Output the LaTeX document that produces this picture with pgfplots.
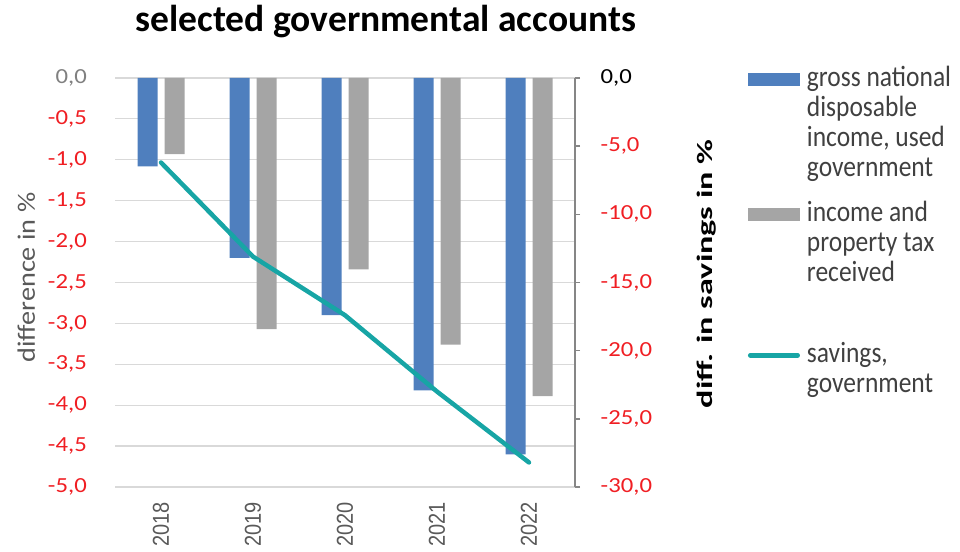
\documentclass[border=0pt]{standalone}
\usepackage{pgfplots}
\pgfplotsset{compat=1.18}
\usepackage{fontspec}
\setmainfont{Carlito}
\newfontfamily\arialf{Liberation Sans}
\definecolor{barblue}{HTML}{4F7FBE}
\definecolor{bargray}{HTML}{A5A5A5}
\definecolor{lineteal}{HTML}{17A5A5}
\definecolor{tickred}{HTML}{F01E23}
\definecolor{gridgray}{HTML}{D9D9D9}
\definecolor{labgray}{HTML}{595959}
\definecolor{leggray}{HTML}{404040}
\definecolor{axgray}{HTML}{868686}
\newcommand{\tl}[2]{\textcolor{#1}{\scalebox{1.15}[1]{#2}}}
\newcommand{\yl}[1]{\scalebox{1}[1.15]{#1}}
\newcommand{\legtext}[2]{\scalebox{1}[1.15]{\parbox[t]{150bp}{\raggedright #1\rule[-#2]{0pt}{0pt}}}}
\begin{document}
\begin{tikzpicture}
\path[use as bounding box] (0,0) rectangle (960bp,552bp);
\begin{axis}[
  at={(115bp,65bp)}, anchor=south west,
  scale only axis, width=460bp, height=409bp,
  xmin=-0.5, xmax=4.5, ymin=-5, ymax=0,
  ybar=7bp, bar width=20bp,
  axis line style={draw=none},
  tick style={draw=none}, major tick length=0pt,
  ymajorgrids, grid style={gridgray, line width=1.2bp},
  ytick={-5,-4.5,-4,-3.5,-3,-2.5,-2,-1.5,-1,-0.5,0},
  yticklabels={{\tl{tickred}{-5,0}},{\tl{tickred}{-4,5}},{\tl{tickred}{-4,0}},{\tl{tickred}{-3,5}},{\tl{tickred}{-3,0}},{\tl{tickred}{-2,5}},{\tl{tickred}{-2,0}},{\tl{tickred}{-1,5}},{\tl{tickred}{-1,0}},{\tl{tickred}{-0,5}},{\tl{gray}{0,0}}},
  yticklabel style={anchor=east, inner sep=0pt, font=\fontsize{21.5bp}{24bp}\selectfont},
  yticklabel shift=28bp,
  xtick={0,1,2,3,4},
  xticklabels={\yl{2018},\yl{2019},\yl{2020},\yl{2021},\yl{2022}},
  xticklabel style={rotate=90, anchor=east, inner sep=0pt, font=\arialf\fontsize{20bp}{24bp}\selectfont, text=labgray},
  xticklabel shift=15bp,
  title={selected governmental accounts},
  title style={at={(rel axis cs:0.589,1.100)}, anchor=base, inner sep=0pt, font=\bfseries\fontsize{37.5bp}{40bp}\selectfont},
  ylabel={\scalebox{1.13}[1]{difference in \%}},
  ylabel style={at={(rel axis cs:-0.193,0.512)}, anchor=center, inner sep=0pt, font=\fontsize{25bp}{30bp}\selectfont, text=labgray},
  legend style={at={(rel axis cs:1.376,1.0286)}, anchor=north west, draw=none, fill=none,
    inner sep=0pt, outer sep=0pt, row sep=0pt, column sep=7bp,
    font=\fontsize{25.5bp}{26.1bp}\selectfont, text=leggray,
    nodes={inner sep=0pt, text depth=},
    cells={anchor=base west, inner sep=0pt, text depth=}},
]
\addplot[fill=barblue, draw=none,
  legend image code/.code={\fill[barblue] (0bp,0.5bp) rectangle (52bp,13.5bp);}]
  coordinates {(0,-1.08) (1,-2.2) (2,-2.9) (3,-3.82) (4,-4.6)};
\addlegendentry{\legtext{gross national\\disposable\\income, used\\government}{21.3bp}}
\addplot[fill=bargray, draw=none,
  legend image code/.code={\fill[bargray] (0bp,0.5bp) rectangle (52bp,13.5bp);}]
  coordinates {(0,-0.93) (1,-3.07) (2,-2.34) (3,-3.26) (4,-3.89)};
\addlegendentry{\legtext{income and\\property tax\\received}{52.6bp}}
\addlegendimage{legend image code/.code={\draw[lineteal, line width=4.5bp, line cap=round] (2.25bp,7bp)--(49.75bp,7bp);}}
\addlegendentry{\legtext{savings,\\government}{0bp}}
\end{axis}
\begin{axis}[
  at={(115bp,65bp)}, anchor=south west,
  scale only axis, width=460bp, height=409bp,
  xmin=-0.5, xmax=4.5, ymin=-30, ymax=0,
  axis x line=none, axis y line*=right,
  y axis line style={draw=axgray, line width=1.5bp},
  ytick={-30,-25,-20,-15,-10,-5,0},
  yticklabels={{\tl{tickred}{-30,0}},{\tl{tickred}{-25,0}},{\tl{tickred}{-20,0}},{\tl{tickred}{-15,0}},{\tl{tickred}{-10,0}},{\tl{tickred}{-5,0}},{\tl{black}{0,0}}},
  tick align=outside, major tick length=5bp,
  tick style={draw=axgray, line width=1.5bp},
  yticklabel style={anchor=west, inner sep=0pt, font=\fontsize{21.5bp}{24bp}\selectfont},
  yticklabel shift=20.5bp,
  ylabel={\scalebox{1.55}[1]{diff. in savings in \%}},
  ylabel style={at={(rel axis cs:1.286,0.521)}, anchor=center, inner sep=0pt, font=\bfseries\fontsize{22bp}{26bp}\selectfont, text=black},
]
\addplot[lineteal, line width=4.5bp, line cap=round, line join=round, mark=none]
  coordinates {(0,-6.2) (1,-13.1) (2,-17.4) (3,-23.0) (4,-28.2)};
\end{axis}
\end{tikzpicture}
\end{document}
